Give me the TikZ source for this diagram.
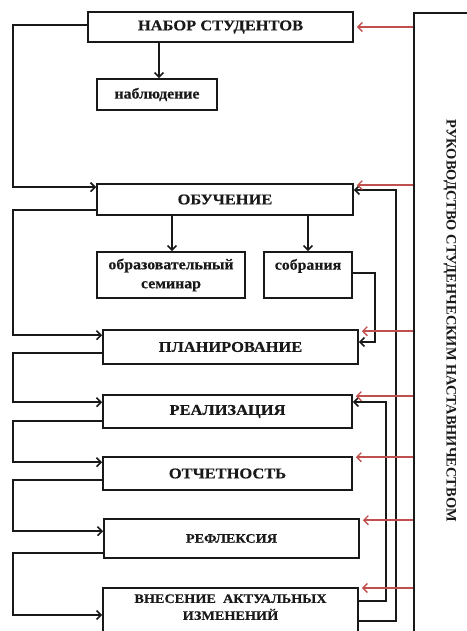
\documentclass[tikz,border=0pt]{standalone}
\usepackage{fontspec}
\setmainfont{Liberation Serif}
\newfontfamily\wideserif[FakeStretch=1.1,FakeBold=0.4]{Liberation Serif}
\newfontfamily\midserif[FakeStretch=1.06,FakeBold=0.4]{Liberation Serif}
\usetikzlibrary{arrows.meta}
\definecolor{redline}{RGB}{192,80,77}
\definecolor{ink}{RGB}{25,25,25}
\tikzset{
  box/.style={draw=ink, line width=1.7bp, inner sep=0pt, align=center, text=ink,
    font=\wideserif\fontsize{15}{17}\selectfont\bfseries},
  lowbox/.style={box, font=\midserif\fontsize{15}{19}\selectfont\bfseries},
  smallbox/.style={box, font=\wideserif\fontsize{13}{17}\selectfont\bfseries},
  conn/.style={draw=ink, line width=1.6bp, -{Straight Barb[length=4.5bp,width=9bp,line width=1.6bp]}},
  redarr/.style={draw=redline, line width=1.4bp, shorten >=3bp, -{Straight Barb[length=4.5bp,width=9bp,line width=1.4bp]}}
}
\begin{document}
\begin{tikzpicture}[x=1bp,y=-1bp]
\useasboundingbox (0,0) rectangle (467,631);
\clip (0,0) rectangle (467,631);

\node[box, minimum width=265bp, minimum height=30bp] (nabor) at (220.5,27) {НАБОР СТУДЕНТОВ};
\node[lowbox, minimum width=120bp, minimum height=31bp] (nabl) at (157,94.5) {наблюдение};
\node[box, minimum width=256bp, minimum height=31bp] (obuch) at (225,199.5) {ОБУЧЕНИЕ};
\node[lowbox, minimum width=148bp, minimum height=46bp] (obraz) at (171,275) {образовательный\\семинар};
\node[lowbox, minimum width=88bp, minimum height=46bp,
  label={[lowbox, draw=none, anchor=north, yshift=-7bp]north:собрания}] (sobr) at (308,275) {};
\node[box, minimum width=255bp, minimum height=34bp] (plan) at (230.5,347) {ПЛАНИРОВАНИЕ};
\node[box, minimum width=249bp, minimum height=33bp] (real) at (227.5,411.5) {РЕАЛИЗАЦИЯ};
\node[box, minimum width=249bp, minimum height=33bp] (otch) at (227.5,473.5) {ОТЧЕТНОСТЬ};
\node[smallbox, minimum width=255bp, minimum height=39bp] (refl) at (231.5,538.5) {РЕФЛЕКСИЯ};
\node[box, minimum width=255bp, minimum height=60bp, anchor=north,
  label={[smallbox, draw=none, anchor=north, yshift=-6.5bp]north:ВНЕСЕНИЕ\ \ АКТУАЛЬНЫХ\\ИЗМЕНЕНИЙ}] (vnes) at (230.5,587) {};

\node[draw=ink, line width=1.7bp, minimum width=80bp, minimum height=640bp, anchor=north west,
  label={[xshift=-4bp, yshift=12bp, rotate=-90, text=ink, font=\fontsize{14.5}{16}\selectfont\bfseries]center:РУКОВОДСТВО СТУДЕНЧЕСКИМ НАСТАВНИЧЕСТВОМ}] (ruk) at (413,12) {};

\coordinate (L) at (13,0);
\coordinate (R1) at (375,0);
\coordinate (R2) at (386,0);
\coordinate (R3) at (396,0);

% left loops
\draw[conn] ([yshift=2bp]nabor.west) -- ([yshift=2bp]nabor.west -| L) -- ([yshift=-4bp]obuch.north west -| L) -- ([yshift=-4bp]obuch.north west);
\draw[conn] ([yshift=6bp]obuch.south west) -- ([yshift=6bp]obuch.south west -| L) -- ([yshift=-6bp]plan.north west -| L) -- ([yshift=-6bp]plan.north west);
\draw[conn] ([yshift=12bp]plan.south west) -- ([yshift=12bp]plan.south west -| L) -- ([yshift=-8bp]real.north west -| L) -- ([yshift=-8bp]real.north west);
\draw[conn] ([yshift=8bp]real.south west) -- ([yshift=8bp]real.south west -| L) -- ([yshift=-6bp]otch.north west -| L) -- ([yshift=-6bp]otch.north west);
\draw[conn] ([yshift=11bp]otch.south west) -- ([yshift=11bp]otch.south west -| L) -- ([yshift=-13bp]refl.north west -| L) -- ([yshift=-13bp]refl.north west);
\draw[conn] ([yshift=6bp]refl.south west) -- ([yshift=6bp]refl.south west -| L) -- ([yshift=-28bp]vnes.north west -| L) -- ([yshift=-28bp]vnes.north west);

% down arrows
\draw[conn] ([xshift=2bp]nabl.north |- nabor.south) -- ([xshift=2bp]nabl.north);
\draw[conn] ([xshift=1bp]obraz.north |- obuch.south) -- ([xshift=1bp]obraz.north);
\draw[conn] (sobr.north |- obuch.south) -- (sobr.north);

% right loops
\draw[conn] ([yshift=2bp]sobr.east) -- ([yshift=2bp]sobr.east -| R1) -- ([yshift=5bp]plan.east -| R1) -- ([yshift=5bp]plan.east);
\draw[conn] ([yshift=-14bp]vnes.north east) -- ([yshift=-14bp]vnes.north east -| R2) -- ([yshift=9.5bp]real.east -| R2) -- ([yshift=9.5bp]real.east);
\draw[conn] ([yshift=-34bp]vnes.north east) -- ([yshift=-34bp]vnes.north east -| R3) -- ([yshift=9.5bp]obuch.east -| R3) -- ([yshift=9.5bp]obuch.east);

% red arrows
\draw[redarr] (nabor.east -| ruk.west) -- (nabor.east);
\draw[redarr] ([yshift=-2bp]obuch.north east -| ruk.west) -- ([yshift=-2bp]obuch.north east);
\draw[redarr] ([yshift=-2bp]plan.north east -| ruk.west) -- ([yshift=-2bp]plan.north east);
\draw[redarr] ([yshift=-2bp]real.north east -| ruk.west) -- ([yshift=-2bp]real.north east);
\draw[redarr] ([yshift=-1bp]otch.north east -| ruk.west) -- ([yshift=-1bp]otch.north east);
\draw[redarr] ([yshift=-2bp]refl.north east -| ruk.west) -- ([yshift=-2bp]refl.north east);
\draw[redarr] ([yshift=-1bp]vnes.north east -| ruk.west) -- ([yshift=-1bp]vnes.north east);
\end{tikzpicture}
\end{document}
